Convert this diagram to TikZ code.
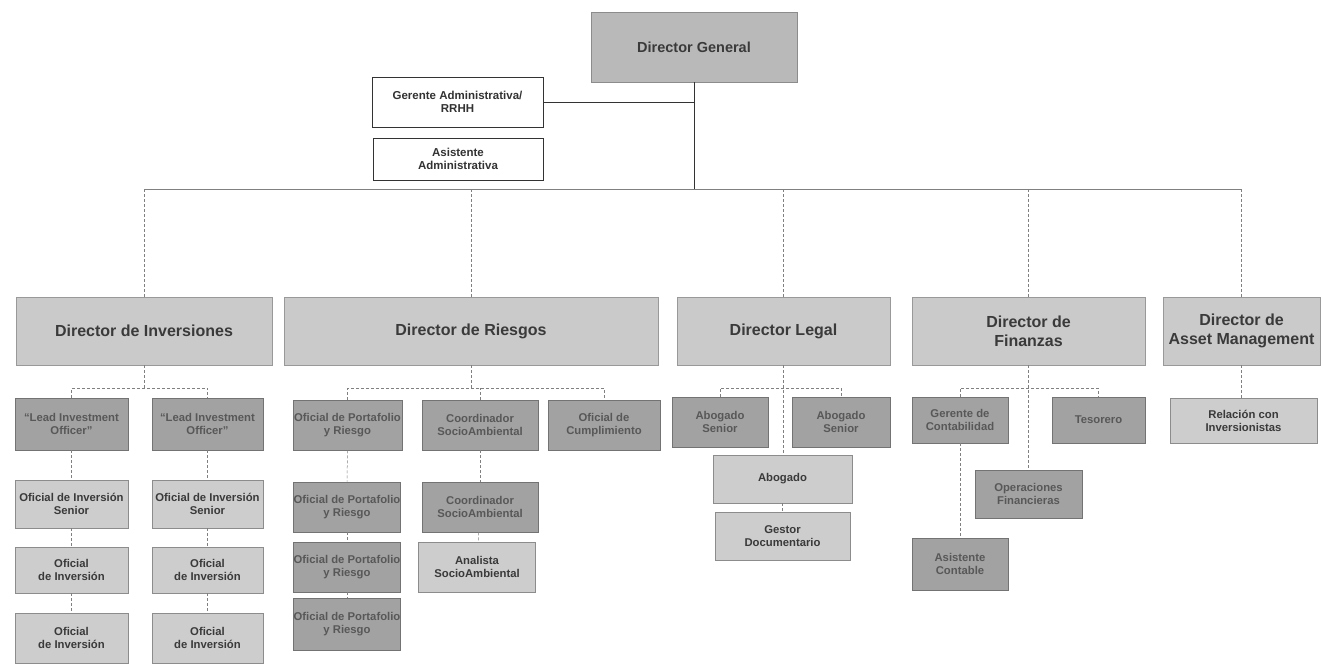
\documentclass[tikz,border=0pt]{standalone}
\usepackage{fontspec}
\setmainfont{Liberation Sans}
\definecolor{dggray}{HTML}{B9B9B9}
\definecolor{dirgray}{HTML}{CACACA}
\definecolor{darkgray2}{HTML}{A2A2A2}
\definecolor{lightgray2}{HTML}{CDCDCD}
\definecolor{txt}{HTML}{3A3A3A}
\definecolor{txtd}{HTML}{585858}
\begin{document}
\begin{tikzpicture}[x=1pt,y=-1pt]
\tikzset{
 base/.style={rectangle, inner sep=0pt, align=center, line width=0.6pt, font=\bfseries\fontsize{11.3}{13}\selectfont},
 dgbox/.style={base, fill=dggray, draw=black!45, text=txt, font=\bfseries\fontsize{14.5}{16}\selectfont},
 dirbox/.style={base, fill=dirgray, draw=black!40, text=txt, font=\bfseries\fontsize{16}{19}\selectfont},
 darkbox/.style={base, fill=darkgray2, draw=black!55, text=txtd},
 lightbox/.style={base, fill=lightgray2, draw=black!45, text=txt},
 whitebox/.style={base, fill=white, draw=black!80, text=black!80, font=\bfseries\fontsize{11.5}{13.5}\selectfont},
 mainline/.style={draw=black!80, line width=0.9pt},
 topline/.style={draw=black!50, line width=0.6pt},
 subline/.style={draw=black!50, line width=0.5pt, densely dashed},
}
\useasboundingbox[fill=white] (0,0) rectangle (1323,665);

% top
\node[dgbox, minimum width=206pt, minimum height=70pt] (dg) at (694,47) {Director General};
\node[whitebox, minimum width=171pt, minimum height=50pt] (ger) at (457.5,102) {Gerente Administrativa/\\RRHH};
\node[whitebox, minimum width=170pt, minimum height=42pt] (asi) at (458,159) {Asistente\\Administrativa};

% directors
\node[dirbox, minimum width=256pt, minimum height=68pt] (dinv) at (144,331) {Director de Inversiones};
\node[dirbox, minimum width=374pt, minimum height=68pt] (drie) at (471,331) {Director de Riesgos};
\node[dirbox, minimum width=213pt, minimum height=68pt] (dleg) at (783.5,331) {Director Legal};
\node[dirbox, minimum width=233pt, minimum height=68pt] (dfin) at (1028.5,331) {Director de\\Finanzas};
\node[dirbox, minimum width=157pt, minimum height=68pt] (dam) at (1241.5,331) {Director de\\Asset Management};

% inversiones
\node[darkbox, minimum width=113pt, minimum height=52pt] (lead1) at (71.5,424) {``Lead Investment\\Officer''};
\node[darkbox, minimum width=111pt, minimum height=52pt] (lead2) at (207.5,424) {``Lead Investment\\Officer''};
\node[lightbox, minimum width=113pt, minimum height=48pt] (sen1) at (71.5,504) {Oficial de Inversión\\Senior};
\node[lightbox, minimum width=111pt, minimum height=48pt] (sen2) at (207.5,504) {Oficial de Inversión\\Senior};
\node[lightbox, minimum width=113pt, minimum height=46pt] (inv1a) at (71.5,570) {Oficial\\de Inversión};
\node[lightbox, minimum width=111pt, minimum height=46pt] (inv2a) at (207.5,570) {Oficial\\de Inversión};
\node[lightbox, minimum width=113pt, minimum height=50pt] (inv1b) at (71.5,638) {Oficial\\de Inversión};
\node[lightbox, minimum width=111pt, minimum height=50pt] (inv2b) at (207.5,638) {Oficial\\de Inversión};

% riesgos
\node[darkbox, minimum width=109pt, minimum height=50pt] (port1) at (347.5,425) {Oficial de Portafolio\\y Riesgo};
\node[darkbox, minimum width=116pt, minimum height=50pt] (coord1) at (480,425) {Coordinador\\SocioAmbiental};
\node[darkbox, minimum width=112pt, minimum height=50pt] (cump) at (604,425) {Oficial de\\Cumplimiento};
\node[darkbox, minimum width=107pt, minimum height=50pt] (port2) at (347,507) {Oficial de Portafolio\\y Riesgo};
\node[darkbox, minimum width=107pt, minimum height=50pt] (port3) at (347,567) {Oficial de Portafolio\\y Riesgo};
\node[darkbox, minimum width=107pt, minimum height=52pt] (port4) at (347,624) {Oficial de Portafolio\\y Riesgo};
\node[darkbox, minimum width=116pt, minimum height=50pt] (coord2) at (480,507) {Coordinador\\SocioAmbiental};
\node[lightbox, minimum width=117pt, minimum height=50pt] (anal) at (477,567) {Analista\\SocioAmbiental};

% legal
\node[darkbox, minimum width=96pt, minimum height=50pt] (abs1) at (720,422) {Abogado\\Senior};
\node[darkbox, minimum width=98pt, minimum height=50pt] (abs2) at (841,422) {Abogado\\Senior};
\node[lightbox, minimum width=139pt, minimum height=48pt] (abog) at (782.5,479) {Abogado};
\node[lightbox, minimum width=135pt, minimum height=48pt] (gest) at (782.5,536) {Gestor\\Documentario};

% finanzas
\node[darkbox, minimum width=96pt, minimum height=46pt] (gcont) at (960,420) {Gerente de\\Contabilidad};
\node[darkbox, minimum width=93pt, minimum height=46pt] (tes) at (1098.5,420) {Tesorero};
\node[darkbox, minimum width=107pt, minimum height=48pt] (opf) at (1028.5,494) {Operaciones\\Financieras};
\node[darkbox, minimum width=96pt, minimum height=52pt] (acont) at (960,564) {Asistente\\Contable};

% asset management
\node[lightbox, minimum width=147pt, minimum height=45pt] (rel) at (1243.5,420.5) {Relación con\\Inversionistas};

% connectors
\coordinate (hl) at (0,189);
\coordinate (br) at (0,388);
\draw[mainline] (dg.south) -- (dg.south |- hl);
\draw[mainline] (ger.east) -- (ger.east -| dg.south);
\draw[topline] (dinv.north |- hl) -- (dam.north |- hl);
\draw[subline] (dinv.north) -- (dinv.north |- hl);
\draw[subline] (drie.north) -- (drie.north |- hl);
\draw[subline] (dleg.north) -- (dleg.north |- hl);
\draw[subline] (dfin.north) -- (dfin.north |- hl);
\draw[subline] (dam.north) -- (dam.north |- hl);

\draw[subline] (dinv.south) -- (dinv.south |- br);
\draw[subline] (lead1.north) -- (lead1.north |- br) -- (lead2.north |- br) -- (lead2.north);
\draw[subline] (lead1) -- (sen1);
\draw[subline] (sen1) -- (inv1a);
\draw[subline] (inv1a) -- (inv1b);
\draw[subline] (lead2) -- (sen2);
\draw[subline] (sen2) -- (inv2a);
\draw[subline] (inv2a) -- (inv2b);

\draw[subline] (drie.south) -- (drie.south |- br);
\draw[subline] (port1.north) -- (port1.north |- br) -- (cump.north |- br) -- (cump.north);
\draw[subline] (coord1.north) -- (coord1.north |- br);
\draw[subline] (port1) -- (port2);
\draw[subline] (port2) -- (port3);
\draw[subline] (port3) -- (port4);
\draw[subline] (coord1) -- (coord2);
\draw[subline] (coord2) -- (anal);

\draw[subline] (dleg.south) -- (dleg.south |- abog.north);
\draw[subline] (abs1.north) -- (abs1.north |- br) -- (abs2.north |- br) -- (abs2.north);
\draw[subline] (abog) -- (gest);

\draw[subline] (dfin.south) -- (dfin.south |- opf.north);
\draw[subline] (gcont.north) -- (gcont.north |- br) -- (tes.north |- br) -- (tes.north);
\draw[subline] (gcont) -- (acont);

\draw[subline] (dam.south) -- (dam.south |- rel.north);
\end{tikzpicture}
\end{document}
